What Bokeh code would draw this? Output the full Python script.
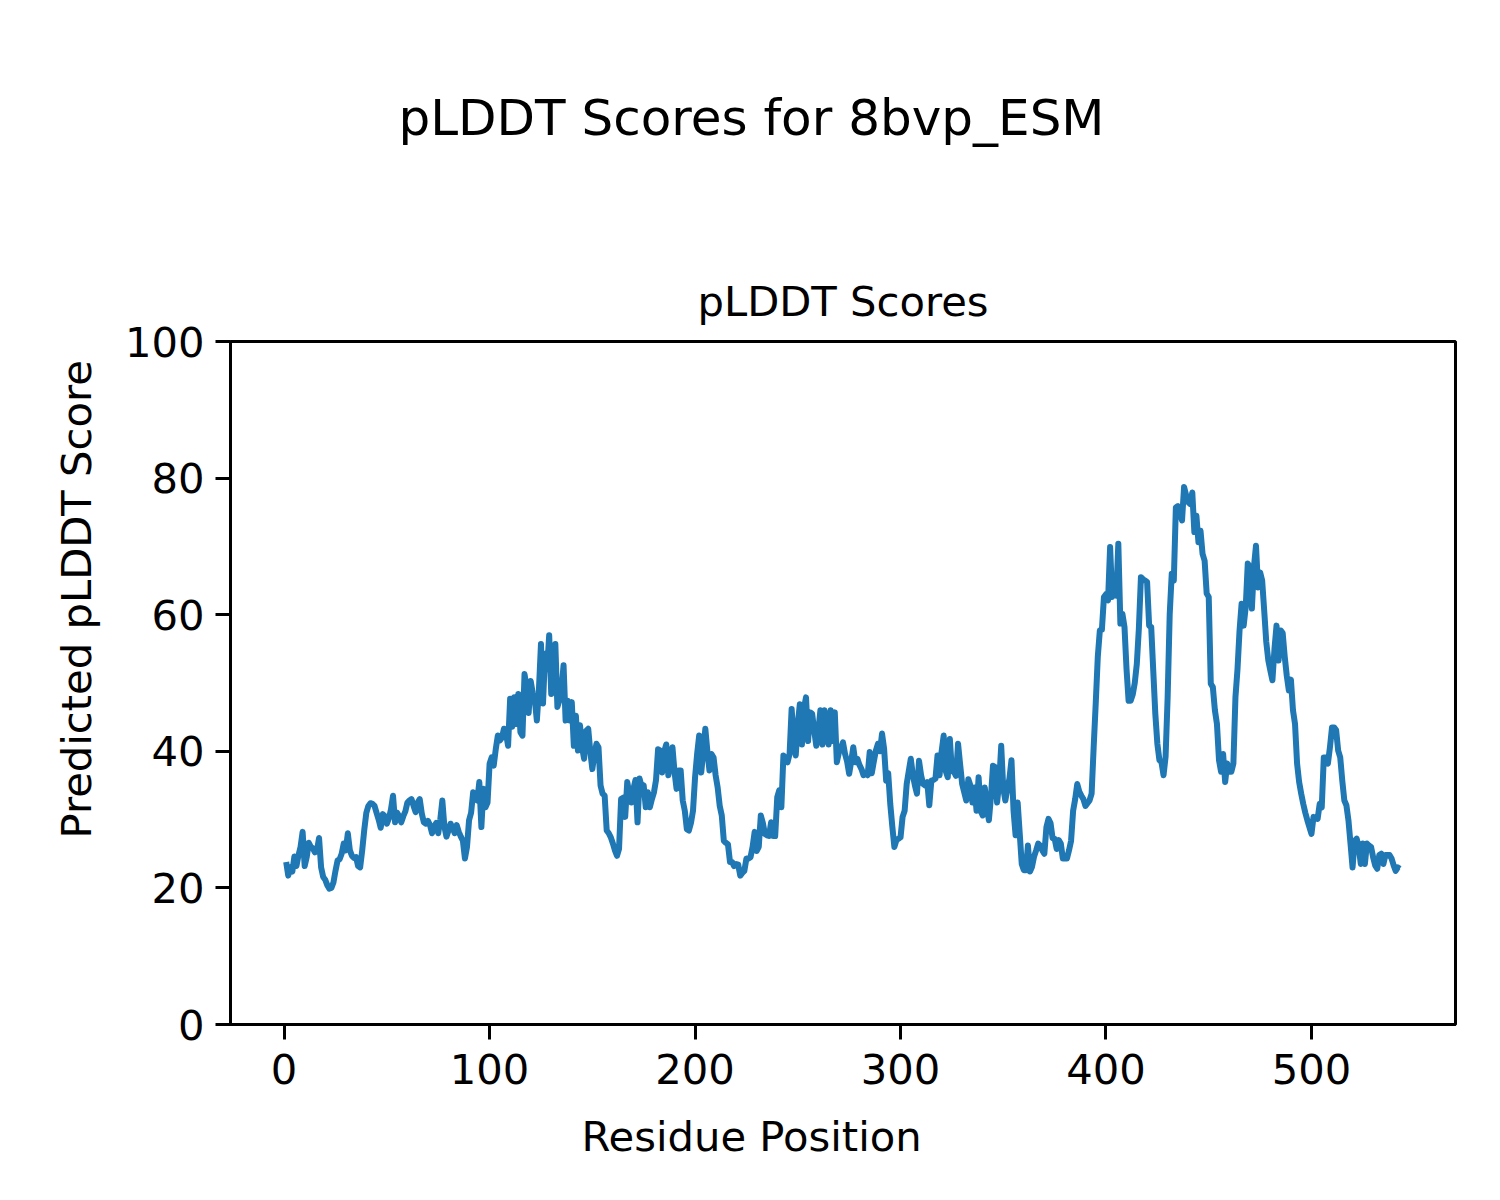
from bokeh.plotting import figure
from bokeh.models import FixedTicker, Title
from bokeh.embed import file_html
from bokeh.resources import INLINE

suptitle_text = "pLDDT Scores for 8bvp_ESM"
axes_title_text = "pLDDT Scores"
x_label = "Residue Position"
y_label = "Predicted pLDDT Score"
x_ticks = [0, 100, 200, 300, 400, 500]
y_ticks = [0, 20, 40, 60, 80, 100]

scores = [
    23.8, 21.8, 23.0, 22.4, 24.6, 23.2, 24.8, 26.0, 28.2, 23.2,
    24.5, 26.6, 26.0, 25.8, 25.2, 25.5, 27.3, 23.0, 21.6, 21.2,
    20.4, 19.9, 20.0, 20.8, 22.5, 24.0, 24.2, 25.0, 26.5, 25.5,
    28.0, 25.5, 24.7, 24.4, 24.5, 23.2, 23.0, 25.5, 28.5, 31.0,
    32.0, 32.4, 32.3, 32.0, 31.0, 30.0, 28.8, 30.8, 30.5, 29.4,
    30.2, 31.5, 33.5, 29.6, 31.0, 30.5, 29.6, 30.5, 31.2, 32.5,
    32.8, 33.0, 32.0, 31.1, 32.5, 33.0, 30.9, 29.6, 29.4, 29.8,
    29.2, 28.0, 29.0, 29.5, 28.0, 30.0, 32.8, 29.0, 27.5, 28.4,
    29.4, 28.8, 28.0, 29.2, 28.2, 27.5, 26.9, 24.3, 26.0, 29.9,
    31.0, 34.0, 33.0, 32.8, 35.5, 28.9, 34.5, 31.8, 32.5, 38.2,
    39.1, 37.9, 40.3, 42.3, 41.6, 42.0, 43.3, 42.6, 40.8, 47.7,
    43.6, 47.9, 44.0, 48.4, 42.8, 42.3, 51.3, 49.4, 45.6, 50.3,
    48.5, 47.5, 44.5, 49.0, 55.7, 47.0, 54.3, 52.0, 57.0, 48.4,
    52.0, 55.7, 46.5, 47.5, 49.0, 52.6, 44.5, 47.4, 44.5, 47.2,
    40.8, 45.2, 40.1, 43.8, 40.6, 38.9, 43.0, 43.3, 40.0, 37.4,
    39.5, 41.1, 40.6, 35.0, 33.8, 33.5, 28.4, 28.0, 27.4, 26.5,
    25.5, 24.7, 25.7, 33.0, 33.2, 30.4, 35.5, 33.8, 32.5, 34.5,
    35.8, 29.6, 36.0, 34.8, 35.0, 31.8, 34.0, 31.8, 33.0, 34.0,
    35.8, 40.3, 40.1, 36.9, 40.0, 41.0, 36.5, 38.5, 40.6, 37.0,
    34.5, 37.2, 37.2, 32.8, 31.3, 28.6, 28.4, 29.5, 31.3, 36.2,
    39.6, 42.3, 36.9, 40.0, 43.3, 40.0, 37.2, 39.6, 39.1, 36.5,
    34.7, 32.0, 30.6, 26.9, 26.6, 26.4, 23.8, 23.8, 23.2, 23.5,
    23.4, 21.8, 22.2, 22.5, 24.3, 24.3, 24.5, 26.0, 28.2, 25.4,
    26.0, 30.6, 29.5, 27.9, 27.7, 27.6, 29.6, 27.6, 27.6, 33.3,
    34.3, 31.8, 39.4, 38.8, 38.4, 39.6, 46.2, 42.0, 39.4, 44.0,
    46.9, 41.0, 46.3, 47.9, 41.5, 45.7, 45.5, 43.0, 40.8, 43.0,
    46.0, 41.0, 46.0, 43.0, 41.0, 46.0, 41.5, 45.7, 38.4, 39.8,
    40.5, 41.3, 39.6, 38.5, 36.7, 38.5, 40.6, 38.4, 38.9, 38.0,
    37.4, 36.5, 36.8, 36.5, 39.9, 36.8, 38.5, 40.1, 41.1, 40.0,
    42.6, 40.4, 35.7, 36.8, 32.3, 29.0, 26.0, 27.0, 27.2, 27.4,
    30.4, 31.3, 35.2, 37.1, 38.9, 36.5, 35.0, 33.8, 38.6, 36.5,
    35.2, 35.0, 35.5, 32.1, 35.7, 35.8, 36.0, 39.4, 36.5, 40.0,
    42.3, 37.1, 36.2, 41.8, 37.1, 37.0, 36.4, 41.1, 38.1, 35.2,
    34.0, 32.8, 35.9, 35.0, 32.5, 34.7, 31.3, 36.2, 31.3, 30.6,
    34.7, 32.0, 29.9, 33.3, 37.9, 37.7, 32.5, 35.4, 40.8, 34.6,
    32.8, 34.5, 36.0, 38.7, 31.3, 27.7, 32.5, 28.0, 23.5, 22.6,
    22.6, 26.2, 22.4, 23.1, 24.6, 25.5, 26.5, 26.2, 25.5, 25.0,
    28.9, 30.1, 29.5, 27.3, 27.2, 25.7, 27.0, 26.5, 24.3, 24.3,
    24.3, 25.5, 26.9, 31.3, 33.0, 35.2, 34.1, 33.5, 33.0, 32.0,
    32.4, 32.8, 33.8, 40.6, 47.0, 53.8, 57.7, 57.8, 62.6, 63.0,
    62.1, 69.9, 62.6, 64.0, 62.8, 70.4, 58.7, 60.1, 58.2, 52.0,
    47.4, 47.4, 48.3, 50.0, 52.8, 58.0, 65.5, 65.2, 65.0, 64.8,
    58.4, 58.2, 51.8, 45.5, 41.1, 38.7, 38.4, 36.5, 39.2, 47.9,
    60.0, 66.0, 65.0, 75.7, 75.9, 74.8, 73.8, 78.7, 77.5, 76.5,
    76.2, 77.9, 72.1, 74.5, 70.6, 72.3, 68.9, 67.9, 63.1, 62.6,
    49.9, 49.4, 46.0, 44.0, 38.7, 37.0, 39.6, 35.5, 38.2, 37.0,
    37.0, 38.2, 47.9, 52.0, 57.7, 61.6, 58.4, 61.1, 67.5, 67.0,
    60.9, 67.0, 70.1, 64.0, 66.2, 65.0, 60.6, 56.0, 53.3, 51.8,
    50.4, 55.0, 58.4, 53.3, 57.7, 57.3, 53.8, 51.0, 48.9, 50.5,
    46.0, 44.0, 38.2, 35.5, 33.8, 32.3, 31.0, 29.9, 28.9, 27.9,
    30.4, 30.2, 30.1, 32.3, 31.8, 39.1, 39.1, 38.2, 40.6, 43.5,
    43.5, 43.1, 40.1, 39.1, 35.7, 32.8, 32.1, 29.9, 26.5, 23.0,
    26.9, 27.2, 26.0, 23.5, 26.5, 23.5, 26.5, 26.2, 26.0, 24.5,
    23.3, 22.8, 24.8, 25.0, 23.5, 24.8, 24.8, 24.8, 24.3, 23.3,
    22.5, 23.0, 22.8,
]
positions = list(range(1, len(scores) + 1))

FONT = "DejaVu Sans"
span = positions[-1] - positions[0]
x_start = positions[0] - 0.05 * span
x_end = positions[-1] + 0.05 * span

FRAME_L, FRAME_T, FRAME_W, FRAME_H = 230, 341, 1225, 683
W, H = 1484, 1184

p = figure(width=W, height=H,
           x_range=(x_start, x_end), y_range=(0, 100),
           output_backend="svg", toolbar_location=None,
           min_border_left=FRAME_L, min_border_right=W - FRAME_L - FRAME_W,
           min_border_top=FRAME_T, min_border_bottom=H - FRAME_T - FRAME_H)
p.title.text = ""
p.background_fill_color = "white"
p.border_fill_color = "white"
p.outline_line_color = "black"
p.outline_line_width = 3
p.outline_line_alpha = 1.0
p.xgrid.visible = False
p.ygrid.visible = False

p.line(positions, scores, line_color="#1f77b4", line_width=6, line_join="round")

p.xaxis.ticker = FixedTicker(ticks=x_ticks)
p.yaxis.ticker = FixedTicker(ticks=y_ticks)
for ax in (p.xaxis[0], p.yaxis[0]):
    ax.axis_line_color = "black"
    ax.axis_line_width = 3
    ax.major_tick_in = 0
    ax.major_tick_out = 15
    ax.major_tick_line_width = 3
    ax.major_tick_line_color = "black"
    ax.minor_tick_line_color = None
    ax.major_label_text_font = FONT
    ax.major_label_text_font_size = "41.7px"
    ax.major_label_text_color = "black"
p.xaxis[0].major_label_standoff = 14
p.yaxis[0].major_label_standoff = 11

# axes title (closest to the frame)
t_axes = Title(text=axes_title_text, align="center", text_font=FONT,
               text_font_size="41.7px", text_font_style="normal",
               text_color="black", standoff=31)
p.add_layout(t_axes, "above")
# blank spacer between the axes title and the figure-level title
t_gap = Title(text=" ", align="center", text_font=FONT,
              text_font_size="41.7px", text_color="white", standoff=52)
p.add_layout(t_gap, "above")
# figure-level title, centred on the whole canvas
t_sup = Title(text=suptitle_text, align="left", offset=168, text_font=FONT,
              text_font_size="50px", text_font_style="normal",
              text_color="black", standoff=20)
p.add_layout(t_sup, "above")

t_xlab = Title(text=x_label, align="left", offset=351, text_font=FONT,
               text_font_size="41.7px", text_font_style="normal",
               text_color="black", standoff=46)
p.add_layout(t_xlab, "below")
t_ylab = Title(text=y_label, align="left", offset=186, text_font=FONT,
               text_font_size="41.7px", text_font_style="normal",
               text_color="black", standoff=41)
p.add_layout(t_ylab, "left")

open("out.html", "w").write(file_html(p, INLINE))
